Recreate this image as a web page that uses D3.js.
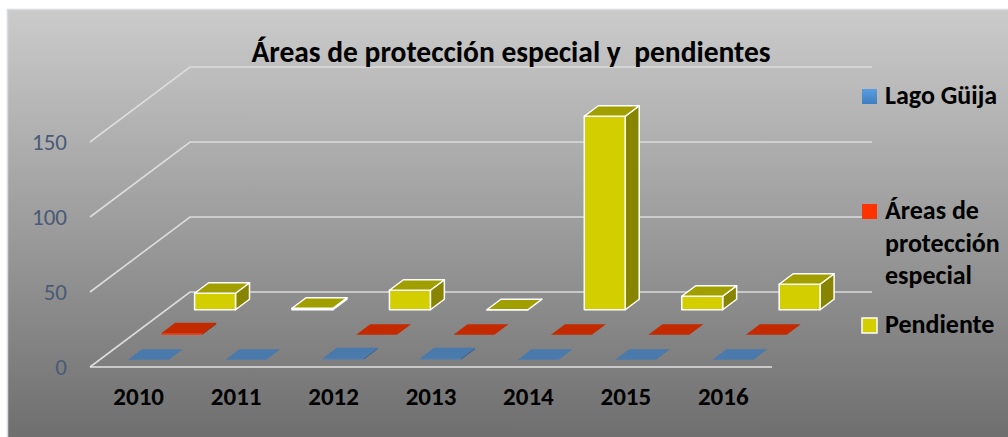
<!DOCTYPE html>
<html>
<head>
<meta charset="utf-8">
<script src="https://cdn.jsdelivr.net/npm/d3@7"></script>
<style>
  body { margin: 0; background: #fff; }
  svg { display: block; font-family: Carlito, Lato, "Open Sans", sans-serif; }
</style>
</head>
<body>
<svg id="chart" width="1008" height="437"></svg>
<script>
// data
const years = ["2010", "2011", "2012", "2013", "2014", "2015", "2016"]
const seriesNames = ["Lago Güija", "Áreas de protección especial", "Pendiente"]
const lagoGuija = [0, 0, 1, 1, 0, 0, 0]
const areasProteccion = [1, null, 0, 0, 0, 0, 0]
const pendiente = [11, 1, 13, 0, 129, 9, 17]
const yTicks = [0, 50, 100, 150]
const titleText = "Áreas de protección especial y  pendientes"

const seriesValues = [lagoGuija, areasProteccion, pendiente]
const colors = [
    { front: "#4f7fb5", top: "#4a7aab", side: "#3b6692", legend: "#4f8fd3", stroke: "none" },
    { front: "#ff3300", top: "#c42a00", side: "#a32200", legend: "#ff3300", stroke: "none" },
    { front: "#d3ce00", top: "#a19e00", side: "#878500", legend: "#d3ce00", stroke: "#ffffff" },
]

const svg = d3.select("#chart")

// background
let defs = svg.append("defs")
let bg = defs.append("linearGradient").attr("id", "bgGrad").attr("x1", 0).attr("y1", 0).attr("x2", 0).attr("y2", 1)
bg.append("stop").attr("offset", 0).attr("stop-color", "#cbcbcb")
bg.append("stop").attr("offset", 1).attr("stop-color", "#6c6c6c")
let lg = defs.append("linearGradient").attr("id", "blueGrad").attr("x1", 0).attr("y1", 0).attr("x2", 0).attr("y2", 1)
lg.append("stop").attr("offset", 0).attr("stop-color", "#5a9ee0")
lg.append("stop").attr("offset", 1).attr("stop-color", "#3d7dc0")

svg.append("rect")
    .attr("x", 7.5).attr("y", 9.5)
    .attr("width", 1010).attr("height", 440)
    .attr("fill", "url(#bgGrad)")
    .attr("stroke", "#d8dce2")
    .attr("stroke-width", 1.5)

// 3d frame: front floor edge from left to right, depth shifts (dx, dy)
const front = { left: 90, right: 772 }
const depthX = 100, depthY = 75

let x = d3.scaleBand().domain(years).range([front.left, front.right]).paddingInner(0.58).paddingOuter(0.29)
let z = d3.scaleBand().domain([0, 1, 2]).range([0, 1]).paddingInner(0.58).paddingOuter(0.29)
let y = d3.scaleLinear().domain([0, 150]).range([367, 142])

function p(px, d, v) {
    return [px + d * depthX, y(v) - d * depthY]
}
let line = d3.line()

// gridlines (side wall + back wall)
let grid = svg.append("g").attr("class", "grid")
grid.selectAll("path")
    .data(yTicks)
    .enter()
    .append("path")
    .attr("d", (t) => line([p(front.left, 0, t), p(front.left, 1, t), p(front.right, 1, t)]))
    .attr("fill", "none")
    .attr("stroke", "#dcdcdc")
    .attr("stroke-width", 1.6)
grid.append("path")
    .attr("d", line([p(front.left, 0, 0), p(front.right, 0, 0)]))
    .attr("fill", "none")
    .attr("stroke", "#e2e2e2")
    .attr("stroke-width", 1.6)

// y labels
svg.append("g")
    .selectAll("text")
    .data(yTicks)
    .enter()
    .append("text")
    .attr("x", 67)
    .attr("y", (t) => y(t) + 8)
    .attr("text-anchor", "end")
    .attr("fill", "#4a5a76")
    .style("font-size", "23px")
    .text((t) => t)

// x labels
svg.append("g")
    .selectAll("text")
    .data(years)
    .enter()
    .append("text")
    .attr("x", (d) => x(d) + x.bandwidth() / 2)
    .attr("y", 405)
    .attr("text-anchor", "middle")
    .attr("fill", "#000")
    .style("font-size", "25px")
    .style("font-weight", "bold")
    .text((d) => d)

// bars, drawn back row first
let bars = []
seriesValues.forEach((vals, s) => {
    vals.forEach((v, i) => {
        if (v === null) return
        bars.push({ s: s, year: years[i], v: v })
    })
})
bars.sort((a, b) => b.s - a.s)

let barG = svg.append("g").attr("class", "bars")
bars.forEach((b) => {
    let x0 = x(b.year), x1 = x0 + x.bandwidth()
    let d0 = z(b.s), d1 = d0 + z.bandwidth()
    let c = colors[b.s]
    let g = barG.append("g")
        .attr("stroke", c.stroke)
        .attr("stroke-width", 1.5)
        .attr("stroke-linejoin", "round")
    let faces = [
        { pts: [p(x1, d0, 0), p(x1, d1, 0), p(x1, d1, b.v), p(x1, d0, b.v)], fill: c.side },
        { pts: [p(x0, d0, 0), p(x1, d0, 0), p(x1, d0, b.v), p(x0, d0, b.v)], fill: c.front },
        { pts: [p(x0, d0, b.v), p(x1, d0, b.v), p(x1, d1, b.v), p(x0, d1, b.v)], fill: c.top },
    ]
    g.selectAll("path")
        .data(faces)
        .enter()
        .append("path")
        .attr("d", (f) => line(f.pts) + "Z")
        .attr("fill", (f) => f.fill)
})

// title
svg.append("text")
    .attr("x", 511)
    .attr("y", 62)
    .attr("text-anchor", "middle")
    .style("font-size", "29.5px")
    .style("font-weight", "bold")
    .style("white-space", "pre")
    .attr("fill", "#000")
    .text(titleText)

// legend
const legendLines = [["Lago Güija"], ["Áreas de", "protección", "especial"], ["Pendiente"]]
const legendTop = [89, 204, 318]
let legend = svg.append("g").attr("class", "legend")
seriesNames.forEach((name, s) => {
    let item = legend.append("g").attr("transform", "translate(862," + legendTop[s] + ")")
    item.append("rect")
        .attr("width", 15).attr("height", 15)
        .attr("fill", s === 0 ? "url(#blueGrad)" : colors[s].legend)
        .attr("stroke", s === 2 ? "#fff" : "none")
        .attr("stroke-width", 1.5)
    item.append("text")
        .attr("x", 23)
        .attr("y", 15)
        .style("font-size", "26px")
        .style("font-weight", "bold")
        .attr("fill", "#000")
        .selectAll("tspan")
        .data(legendLines[s])
        .enter()
        .append("tspan")
        .attr("x", 23)
        .attr("dy", (d, i) => (i === 0 ? 0 : 32.5))
        .text((d) => d)
})
</script>
</body>
</html>
